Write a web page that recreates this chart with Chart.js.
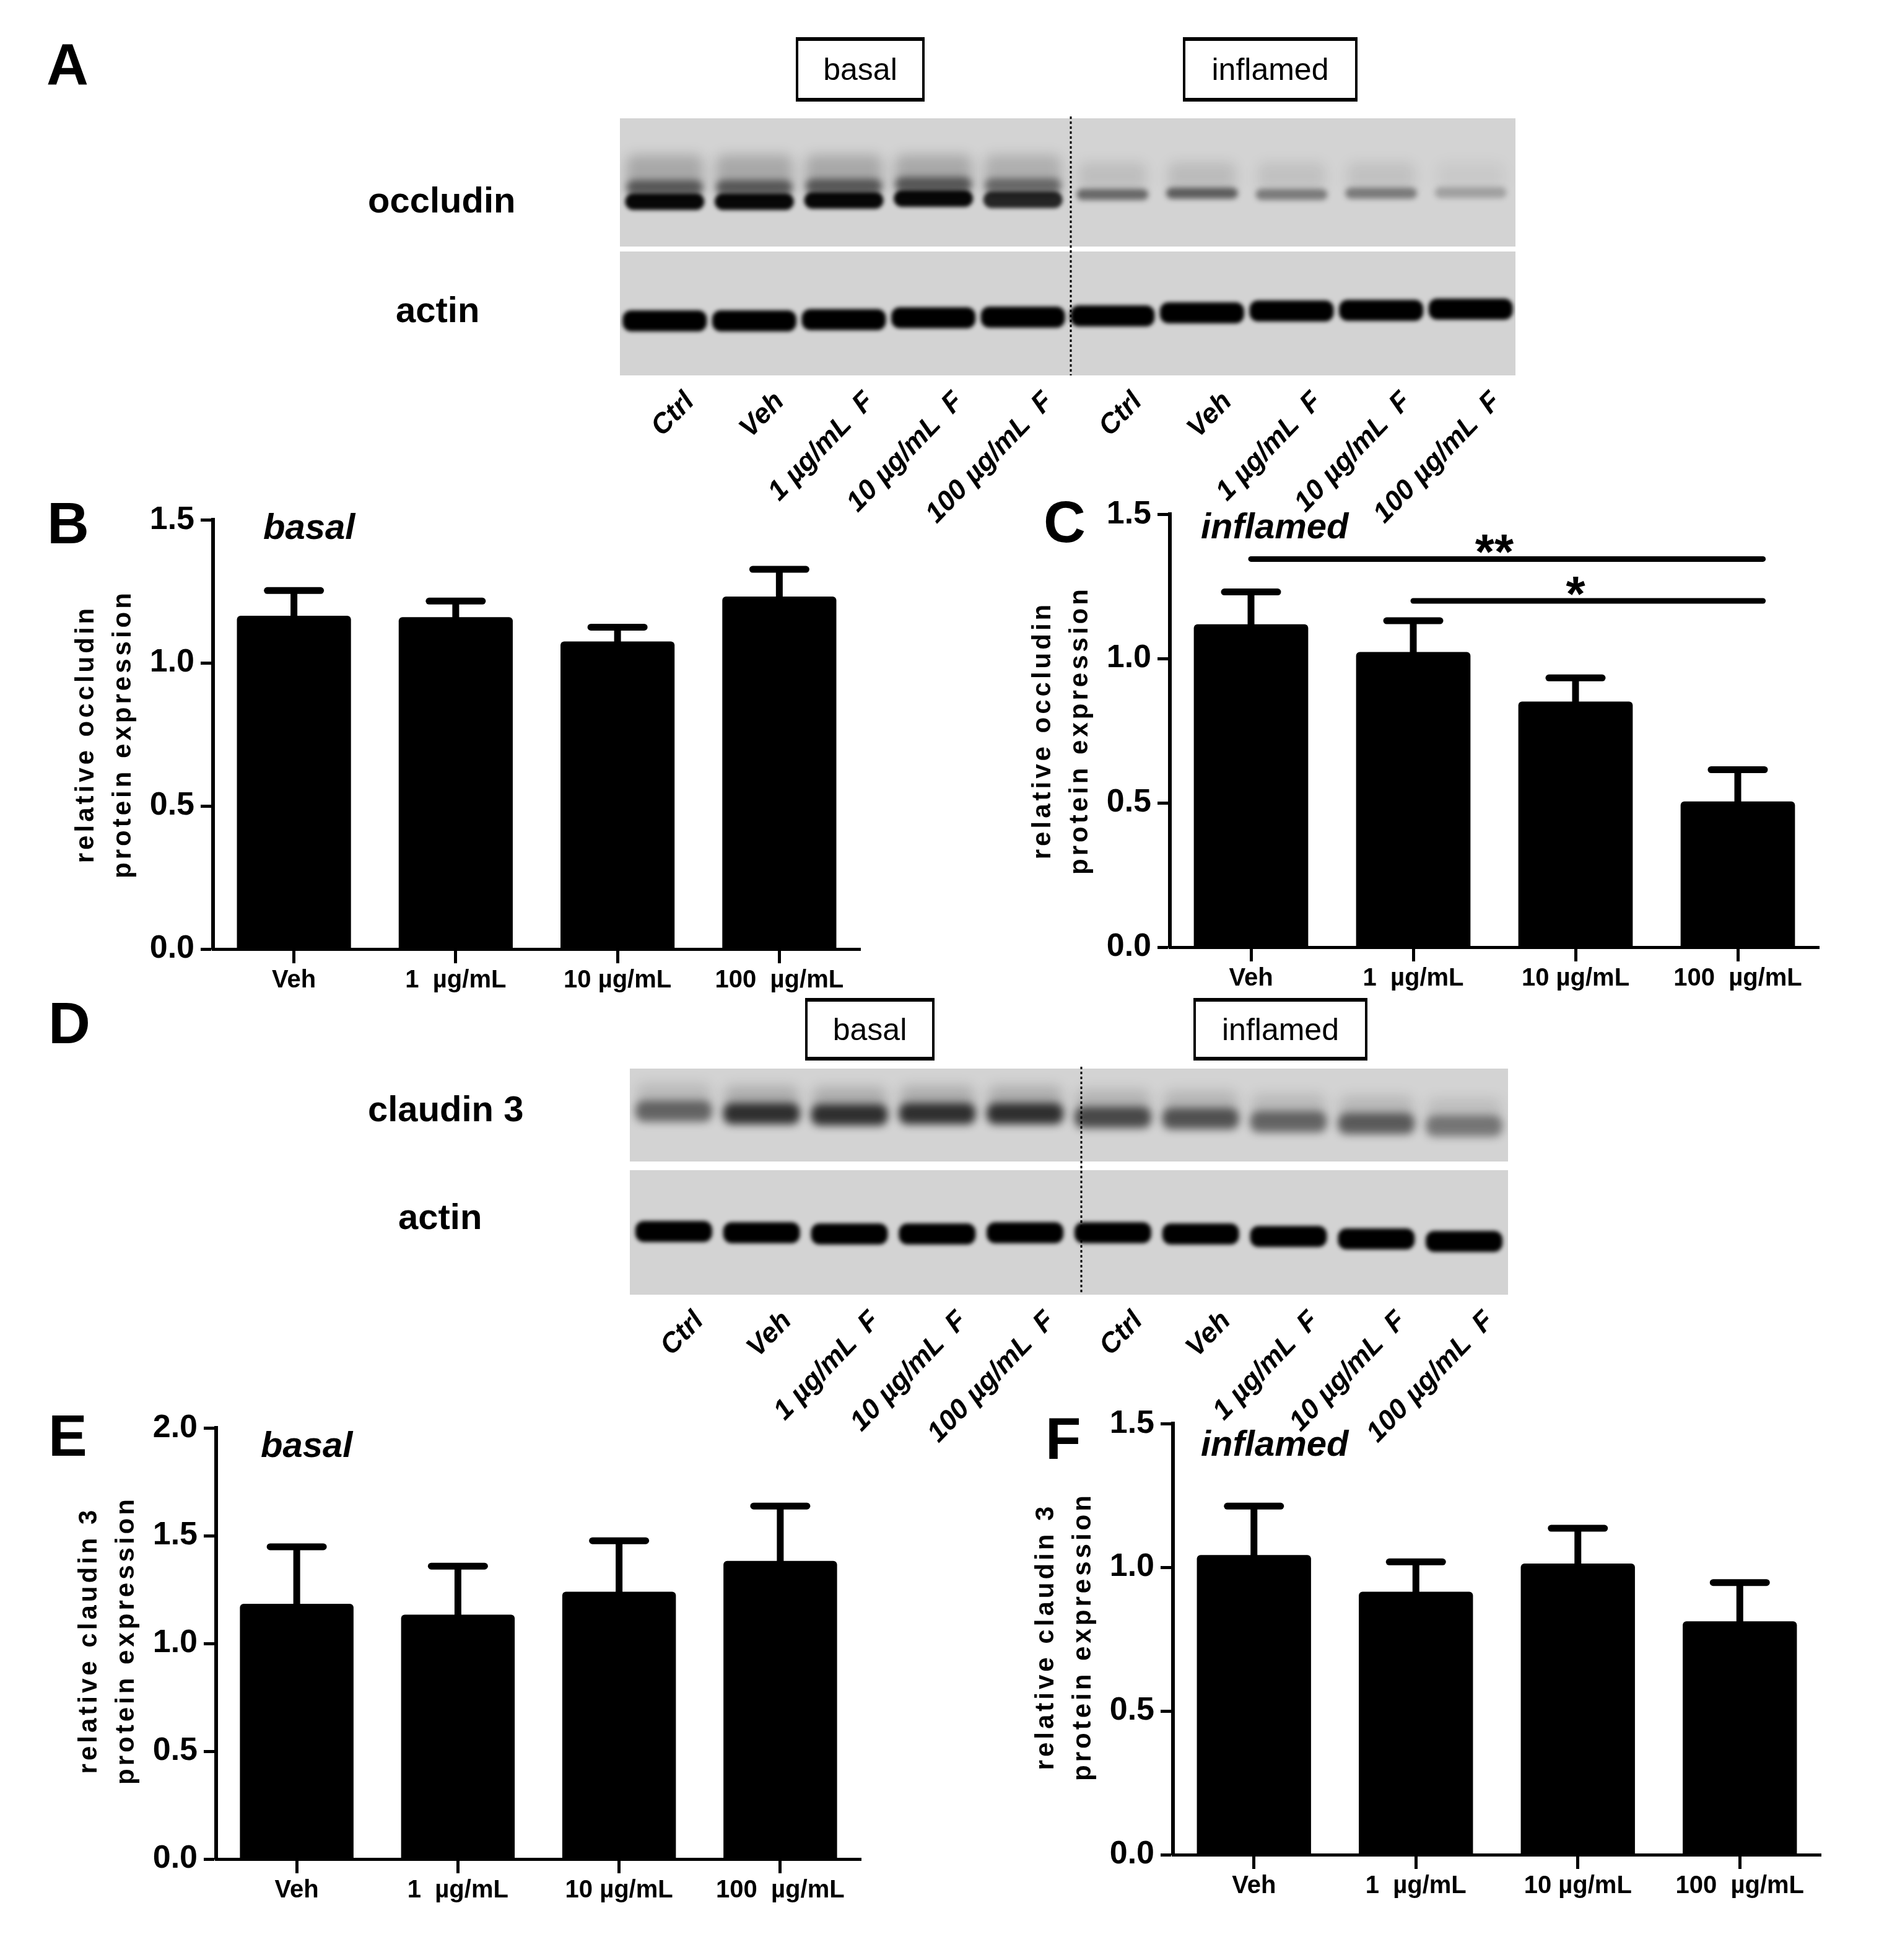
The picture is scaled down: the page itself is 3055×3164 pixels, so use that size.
<!DOCTYPE html>
<html><head><meta charset="utf-8">
<script src="https://cdn.jsdelivr.net/npm/chart.js@4.4.0/dist/chart.umd.min.js"></script>
<style>
html,body{margin:0;padding:0;background:#fff;}
#page{position:relative;width:3055px;height:3164px;overflow:hidden;font-family:'Liberation Sans',Arial,sans-serif;color:#000;background:#fff;}
.t{position:absolute;line-height:1;white-space:pre;}
#page canvas{position:absolute;}
.box{position:absolute;border:4px solid #000;border-top-width:6px;border-bottom-width:6px;box-sizing:border-box;display:flex;align-items:center;justify-content:center;font-size:50px;line-height:1;}
</style></head>
<body><div id="page"><canvas id="bg" width="3055" height="3164" style="left:0;top:0;width:3055px;height:3164px"></canvas></div>
<script>
// ---------------- data ----------------
const categories = ['Veh', '1  µg/mL', '10 µg/mL', '100  µg/mL'];
const occludinBasalMean = [1.165, 1.16, 1.075, 1.232];
const occludinBasalSem = [0.088, 0.056, 0.050, 0.095];
const occludinInflamedMean = [1.119, 1.023, 0.851, 0.505];
const occludinInflamedSem = [0.112, 0.108, 0.082, 0.110];
const claudinBasalMean = [1.184, 1.134, 1.240, 1.383];
const claudinBasalSem = [0.265, 0.225, 0.237, 0.255];
const claudinInflamedMean = [1.043, 0.915, 1.013, 0.812];
const claudinInflamedSem = [0.170, 0.104, 0.123, 0.135];
const occludinYTicks = [0, 0.5, 1.0, 1.5];
const claudinBasalYTicks = [0, 0.5, 1.0, 1.5, 2.0];
const claudinInflamedYTicks = [0, 0.5, 1.0, 1.5];
const sigBarsC = [{from: 0, to: 3, y: 1.345, label: '**'}, {from: 1, to: 3, y: 1.2, label: '*'}];
const laneLabels = ['Ctrl', 'Veh', '1 µg/mL  F', '10 µg/mL  F', '100 µg/mL  F', 'Ctrl', 'Veh', '1 µg/mL  F', '10 µg/mL  F', '100 µg/mL  F'];
// blot band appearance (relative band darkness per lane, 0..1)
const occludinBand = [1, 1, 1, 1, 0.85, 0.55, 0.6, 0.45, 0.45, 0.25];
const claudinBand = [0.6, 0.9, 0.9, 0.9, 0.9, 0.75, 0.7, 0.6, 0.65, 0.5];

// ---------------- helpers ----------------
const FAMILY = "'Liberation Sans', Arial, sans-serif";
const page = document.getElementById('page');
Chart.defaults.font.family = FAMILY;
Chart.defaults.color = '#000';

function txt(s, x, baseline, size, o) {
  o = o || {};
  const d = document.createElement('div');
  d.className = 't'; d.textContent = s;
  d.style.fontSize = size + 'px';
  d.style.fontWeight = o.weight || 'bold';
  if (o.italic) d.style.fontStyle = 'italic';
  d.style.top = (baseline - 0.8465 * size) + 'px';
  d.style.left = x + 'px';
  if (o.spacing) d.style.letterSpacing = o.spacing + 'px';
  page.appendChild(d);
  return d;
}
function vtxt(s, cx, cy, size, spacing) {
  const d = document.createElement('div');
  d.className = 't'; d.textContent = s;
  d.style.fontSize = size + 'px'; d.style.fontWeight = 'bold';
  d.style.letterSpacing = spacing + 'px';
  d.style.left = cx + 'px'; d.style.top = cy + 'px';
  d.style.transform = 'translate(-50%,-50%) rotate(-90deg)';
  page.appendChild(d);
}
function laneLabel(s, ax, ay, size, angle) {
  const o = document.createElement('div');
  o.style.position = 'absolute'; o.style.left = ax + 'px'; o.style.top = ay + 'px';
  o.style.width = '0'; o.style.height = '0';
  o.style.transformOrigin = '0 0'; o.style.transform = 'rotate(' + (-angle) + 'deg)';
  const i = document.createElement('div');
  i.className = 't'; i.textContent = s;
  i.style.fontSize = size + 'px'; i.style.fontWeight = 'bold'; i.style.fontStyle = 'italic';
  i.style.right = '0'; i.style.top = (-0.8465 * size) + 'px';
  o.appendChild(i); page.appendChild(o);
}
function box(s, x, y, w, h) {
  const d = document.createElement('div');
  d.className = 'box'; d.textContent = s;
  d.style.left = x + 'px'; d.style.top = y + 'px'; d.style.width = w + 'px'; d.style.height = h + 'px';
  page.appendChild(d);
}

// ---------------- blots (background canvas) ----------------
const bg = document.getElementById('bg').getContext('2d');
function band(ctx, x, y, w, h, alpha, blur) {
  ctx.save();
  ctx.filter = 'blur(' + blur + 'px)';
  ctx.fillStyle = 'rgba(0,0,0,' + alpha + ')';
  ctx.beginPath();
  ctx.roundRect(x, y, w, h, Math.min(h / 2, 14));
  ctx.fill();
  ctx.restore();
}
function panel(ctx, x, y, w, h, drawFn) {
  ctx.save();
  ctx.fillStyle = '#d3d3d3';
  ctx.fillRect(x, y, w, h);
  ctx.beginPath(); ctx.rect(x, y, w, h); ctx.clip();
  drawFn();
  ctx.restore();
}
function dotted(ctx, x, y0, y1) {
  ctx.save(); ctx.strokeStyle = '#000'; ctx.lineWidth = 3; ctx.setLineDash([4, 4]);
  ctx.beginPath(); ctx.moveTo(x, y0); ctx.lineTo(x, y1); ctx.stroke(); ctx.restore();
}

// Blot A
const A = {x: 1001, w: 1446};
const laneA = i => A.x + A.w / 20 + i * A.w / 10;
panel(bg, A.x, 191, A.w, 207, () => {
  const yc = [325, 325, 323, 320, 322, 314, 312, 314, 312, 311];
  for (let i = 0; i < 10; i++) {
    const c = laneA(i), k = occludinBand[i];
    if (i < 5) {
      band(bg, c - 62, 250, 124, 62, 0.2 * k, 10);
      band(bg, c - 62, yc[i] - 34, 124, 24, 0.5 * k, 6);
      band(bg, c - 64, yc[i] - 13, 128, 27, 0.97 * k, 3);
    } else {
      band(bg, c - 55, 262, 110, 45, 0.18 * k, 10);
      band(bg, c - 58, yc[i] - 9, 116, 18, 0.9 * k, 4);
    }
  }
});
panel(bg, A.x, 406, A.w, 200, () => {
  const yc = [518, 518, 516, 513, 512, 510, 505, 502, 501, 499];
  for (let i = 0; i < 10; i++) band(bg, laneA(i) - 68, yc[i] - 17, 136, 34, 1, 3);
});
dotted(bg, 1729, 188, 606);

// Blot D
const D = {x: 1017, w: 1418};
const laneD = i => D.x + D.w / 20 + i * D.w / 10;
panel(bg, D.x, 1725, D.w, 150, () => {
  const yc = [1794, 1798, 1800, 1798, 1798, 1804, 1806, 1811, 1814, 1818];
  for (let i = 0; i < 10; i++) {
    const c = laneD(i), k = claudinBand[i];
    band(bg, c - 60, yc[i] - 45, 120, 40, 0.2 * k, 10);
    band(bg, c - 62, yc[i] - 17, 124, 34, 0.85 * k, 7);
  }
});
panel(bg, D.x, 1889, D.w, 201, () => {
  const yc = [1988, 1990, 1992, 1992, 1990, 1990, 1992, 1996, 2000, 2004];
  for (let i = 0; i < 10; i++) band(bg, laneD(i) - 62, yc[i] - 17, 124, 34, 1, 3);
});
dotted(bg, 1746, 1722, 2090);

// ---------------- bar charts ----------------
function makeBar(p) {
  const YW = 200, XH = 110, PT = 40, PR = 30;
  const W = (p.right - p.left) + YW + PR, H = (p.bottom - p.top) + PT + XH;
  const c = document.createElement('canvas');
  c.width = W; c.height = H;
  c.style.left = (p.left - YW) + 'px'; c.style.top = (p.top - PT) + 'px';
  c.style.width = W + 'px'; c.style.height = H + 'px';
  page.appendChild(c);

  const errPlugin = {
    id: 'errbars',
    afterDatasetsDraw(chart) {
      const ctx = chart.ctx, meta = chart.getDatasetMeta(0), ys = chart.scales.y;
      ctx.save(); ctx.strokeStyle = '#000'; ctx.lineWidth = 11;
      meta.data.forEach((bar, i) => {
        const top = ys.getPixelForValue(p.mean[i] + p.sem[i]);
        ctx.lineCap = 'butt';
        ctx.beginPath(); ctx.moveTo(bar.x, bar.y + 2); ctx.lineTo(bar.x, top); ctx.stroke();
        ctx.lineCap = 'round';
        ctx.beginPath(); ctx.moveTo(bar.x - 43, top); ctx.lineTo(bar.x + 43, top); ctx.stroke();
      });
      ctx.restore();
    }
  };
  const sigPlugin = {
    id: 'sigbars',
    afterDatasetsDraw(chart) {
      if (!p.sig) return;
      const ctx = chart.ctx, xs = chart.scales.x, ys = chart.scales.y;
      ctx.save(); ctx.strokeStyle = '#000'; ctx.fillStyle = '#000'; ctx.lineWidth = 9; ctx.lineCap = 'round';
      ctx.font = 'bold 80px ' + FAMILY; ctx.textAlign = 'center'; ctx.textBaseline = 'alphabetic';
      const catW = xs.getPixelForValue(1) - xs.getPixelForValue(0);
      p.sig.forEach(s => {
        const x0 = xs.getPixelForValue(s.from), x1 = xs.getPixelForValue(s.to) + catW * 0.155;
        const y = ys.getPixelForValue(s.y);
        ctx.beginPath(); ctx.moveTo(x0, y); ctx.lineTo(x1, y); ctx.stroke();
        const xm = (x0 + xs.getPixelForValue(s.to)) / 2;
        ctx.fillText(s.label, xm, y + 16);
      });
      ctx.restore();
    }
  };

  new Chart(c, {
    type: 'bar',
    data: {
      labels: categories,
      datasets: [{data: p.mean, backgroundColor: '#000', borderWidth: 0, borderRadius: 6,
                  categoryPercentage: 1, barPercentage: 0.705}]
    },
    options: {
      responsive: false, animation: false, devicePixelRatio: 1,
      layout: {padding: {top: PT, right: PR, left: 0, bottom: 0}},
      plugins: {legend: {display: false}, tooltip: {enabled: false}, title: {display: false}},
      scales: {
        x: {
          type: 'category', offset: true,
          grid: {display: true, drawOnChartArea: false, offset: false, drawTicks: true,
                 tickLength: 23, tickWidth: 5, tickColor: '#000', color: '#000'},
          border: {display: true, color: '#000', width: 5},
          ticks: {color: '#000', font: {size: 40, weight: 'bold'}, padding: 4, maxRotation: 0, autoSkip: false},
          afterFit: s => { s.height = XH; }
        },
        y: {
          min: 0, max: p.ticks[p.ticks.length - 1],
          afterBuildTicks: s => { s.ticks = p.ticks.map(v => ({value: v})); },
          ticks: {color: '#000', font: {size: 52, weight: 'bold'}, padding: 10,
                  callback: v => Number(v).toFixed(1)},
          grid: {display: true, drawOnChartArea: false, tickLength: 20, tickWidth: 5, tickColor: '#000', color: '#000'},
          border: {display: true, color: '#000', width: 6},
          afterFit: s => { s.width = YW; }
        }
      }
    },
    plugins: [errPlugin, sigPlugin]
  });
}

makeBar({left: 344, top: 838, right: 1389, bottom: 1532, mean: occludinBasalMean, sem: occludinBasalSem, ticks: occludinYTicks});
makeBar({left: 1889, top: 829, right: 2937, bottom: 1529, mean: occludinInflamedMean, sem: occludinInflamedSem, ticks: occludinYTicks, sig: sigBarsC});
makeBar({left: 349, top: 2304, right: 1390, bottom: 3001, mean: claudinBasalMean, sem: claudinBasalSem, ticks: claudinBasalYTicks});
makeBar({left: 1894, top: 2297, right: 2940, bottom: 2994, mean: claudinInflamedMean, sem: claudinInflamedSem, ticks: claudinInflamedYTicks});

// ---------------- texts ----------------
// panel letters
txt('A', 75, 138, 94);
txt('B', 76, 878, 94);
txt('C', 1685, 876, 94);
txt('D', 78, 1685, 94);
txt('E', 78, 2351, 94);
txt('F', 1688, 2356, 94);

// blot row labels
txt('occludin', 594, 343, 58);
txt('actin', 639, 520, 58);
txt('claudin 3', 594, 1810, 58);
txt('actin', 643, 1984, 58);

// condition boxes
box('basal', 1285, 60, 208, 104);
box('inflamed', 1910, 60, 282, 104);
box('basal', 1300, 1611, 209, 101);
box('inflamed', 1927, 1611, 281, 101);

// lane labels
for (let i = 0; i < 10; i++) laneLabel(laneLabels[i], laneA(i) + 50, 650, 45, 46);
for (let i = 0; i < 10; i++) laneLabel(laneLabels[i], laneD(i) + 50, 2134, 45, 46);

// chart inner titles
txt('basal', 425, 870, 58, {italic: true});
txt('inflamed', 1939, 869, 58, {italic: true});
txt('basal', 421, 2352, 58, {italic: true});
txt('inflamed', 1939, 2350, 58, {italic: true});

// y-axis titles
vtxt('relative occludin', 137, 1185, 42, 5);
vtxt('protein expression', 197, 1185, 42, 5);
vtxt('relative occludin', 1682, 1179, 42, 5);
vtxt('protein expression', 1742, 1179, 42, 5);
vtxt('relative claudin 3', 142, 2648, 42, 5);
vtxt('protein expression', 202, 2648, 42, 5);
vtxt('relative claudin 3', 1687, 2642, 42, 5);
vtxt('protein expression', 1747, 2642, 42, 5);
</script>
</body></html>
